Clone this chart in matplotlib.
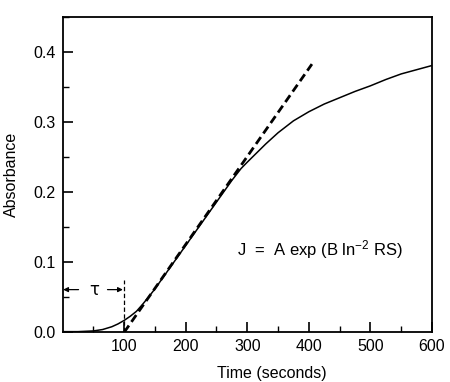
import matplotlib.pyplot as plt
from matplotlib.ticker import MultipleLocator, FixedLocator

plt.rcParams['font.family'] = ['Liberation Sans', 'DejaVu Sans']
plt.rcParams['mathtext.fontset'] = 'custom'
plt.rcParams['mathtext.rm'] = 'Liberation Sans'
plt.rcParams['mathtext.it'] = 'Liberation Sans'

# absorbance curve
time = [0, 25, 50, 65, 80, 90, 100, 110, 120, 130, 142, 150, 175, 200, 225, 250,
        275, 290, 300, 315, 330, 350, 375, 400, 425, 450, 475, 500, 525, 550, 575, 600]
absorb = [0.001, 0.001, 0.002, 0.004, 0.008, 0.012, 0.017, 0.023, 0.030, 0.040, 0.053,
          0.062, 0.093, 0.124, 0.155, 0.186, 0.217, 0.234, 0.243, 0.256, 0.269, 0.285,
          0.302, 0.315, 0.326, 0.335, 0.344, 0.352, 0.361, 0.369, 0.375, 0.381]

# tangent through the linear part
tan_t = [100, 405]
tan_a = [0.0, 0.383]

# lag time marker
tau = 100
tau_top = 0.075
arrow_y = 0.061

fig = plt.figure(figsize=(4.5, 3.82), dpi=100)
ax = fig.add_axes([0.139, 0.13, 0.821, 0.825])

ax.plot(time, absorb, color='black', lw=1.1)
ax.plot(tan_t, tan_a, color='black', lw=2.0, linestyle=(0, (3, 1.6)))

# tau bracket
ax.plot([tau, tau], [0, tau_top], color='black', lw=0.9, linestyle=(0, (3.5, 2)))
ax.annotate('', xy=(1, arrow_y), xytext=(26, arrow_y),
            arrowprops=dict(arrowstyle='-|>', color='black', lw=0.9,
                            mutation_scale=7, shrinkA=0, shrinkB=0))
ax.annotate('', xy=(tau - 2, arrow_y), xytext=(73, arrow_y),
            arrowprops=dict(arrowstyle='-|>', color='black', lw=0.9,
                            mutation_scale=7, shrinkA=0, shrinkB=0))
ax.text(51, arrow_y, 'τ', fontsize=12, ha='center', va='center', family='DejaVu Sans')

ax.text(283, 0.118, r'J  =  A exp (B ln$^{-2}$ RS)', fontsize=12, ha='left', va='center')

ax.set_xlim(0, 600)
ax.set_ylim(0, 0.45)
ax.xaxis.set_major_locator(FixedLocator([100, 200, 300, 400, 500, 600]))
ax.xaxis.set_minor_locator(FixedLocator([50, 150, 250, 350, 450, 550]))
ax.yaxis.set_major_locator(FixedLocator([0.0, 0.1, 0.2, 0.3, 0.4]))
ax.yaxis.set_minor_locator(MultipleLocator(0.05))
ax.yaxis.set_major_formatter(plt.FormatStrFormatter('%.1f'))

ax.tick_params(which='both', direction='in', top=False, right=False, labelsize=11.5)
ax.tick_params(which='major', length=7, width=1.2)
ax.tick_params(which='minor', length=4, width=1.0)
ax.tick_params(axis='y', pad=5)
ax.tick_params(axis='x', pad=5)
for s in ax.spines.values():
    s.set_linewidth(1.3)

ax.set_ylabel('Absorbance', fontsize=11.5)
ax.set_xlabel('Time (seconds)', fontsize=11.5)
ax.yaxis.set_label_coords(-0.118, 0.5)
ax.xaxis.set_label_coords(0.566, -0.107)

fig.savefig('out.png', dpi=100)
